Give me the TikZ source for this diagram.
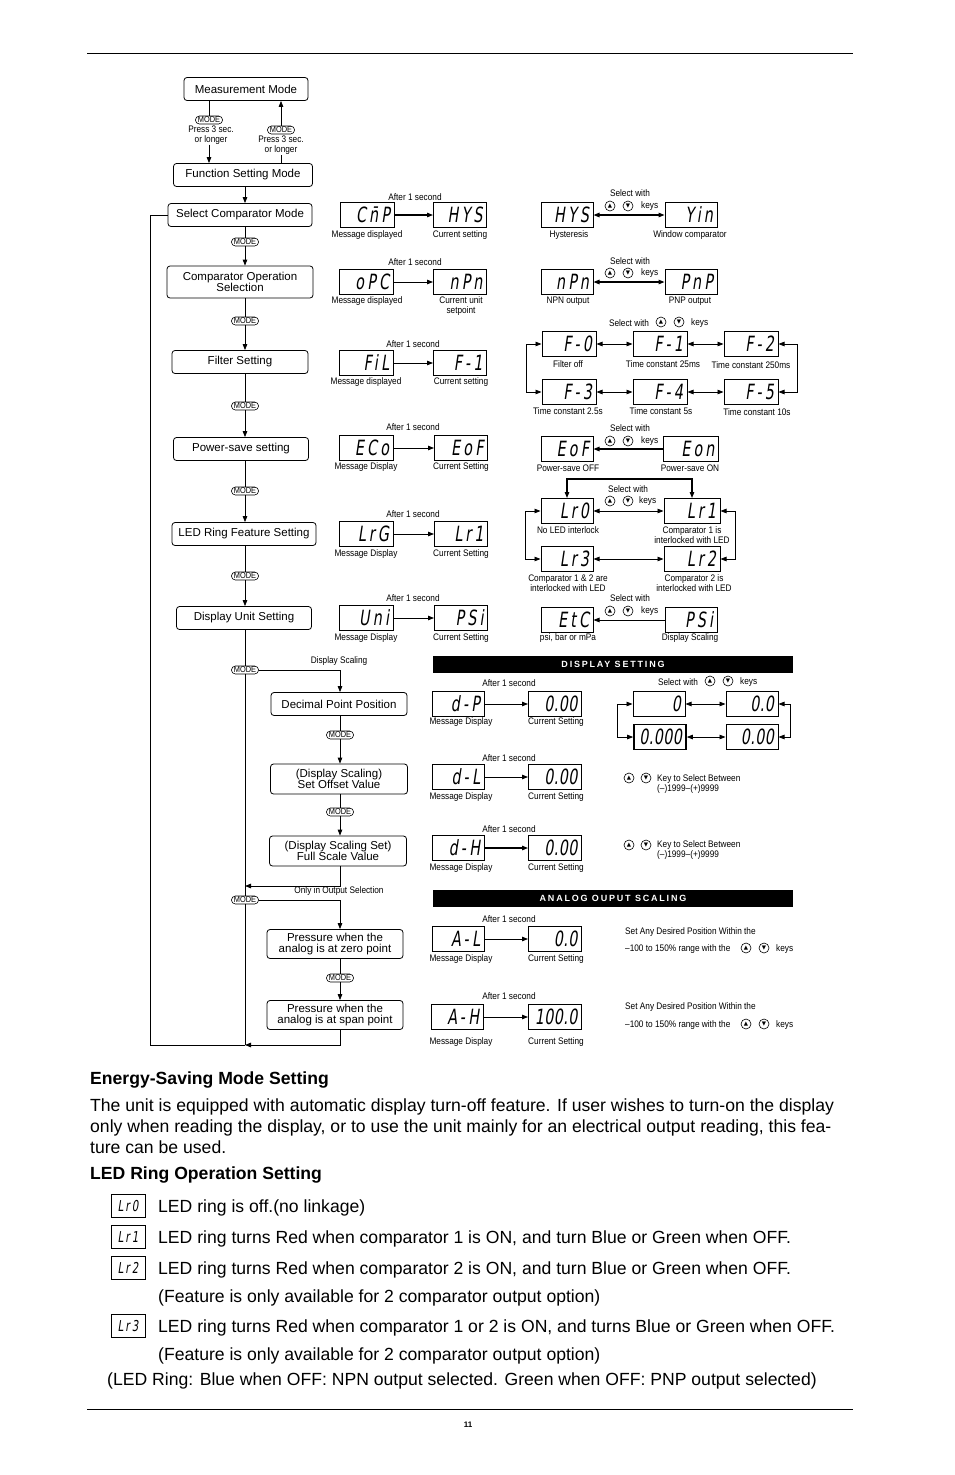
\documentclass[tikz,border=0pt]{standalone}
\usepackage{fontspec}
\setmainfont{Liberation Sans}
\newfontfamily\narrowfont[FakeStretch=0.87]{Liberation Sans}
\newfontfamily\segfont[FakeSlant=0.15,FakeStretch=0.68,LetterSpace=15]{DejaVu Sans}
\newfontfamily\numfont[FakeSlant=0.15,FakeStretch=0.68,LetterSpace=2]{DejaVu Sans}
\newfontfamily\symfont{DejaVu Sans}
\usetikzlibrary{positioning,arrows.meta}

\begin{document}
\begin{tikzpicture}[
  x=1pt, y=-1pt,
  box/.style={draw, rounded corners=3pt, line width=0.8pt, minimum height=23, inner xsep=2pt, inner ysep=1pt,
              align=center, font=\fontsize{11.5}{10.5}\selectfont},
  mode/.style={draw, rounded corners=4pt, line width=0.6pt, fill=white, inner xsep=2.5pt, inner ysep=1pt,
               font=\narrowfont\fontsize{8.5}{8}\selectfont},
  lbl/.style={inner sep=0pt, align=center, font=\narrowfont\fontsize{9.5}{10}\selectfont},
  seg/.style={draw, line width=1pt, minimum height=25, inner xsep=4pt, inner ysep=0pt, text width=#1,
              align=right, font=\segfont\fontsize{21}{21}\selectfont},
  seg/.default=44,
  segn/.style={seg=#1, font=\numfont\fontsize{21}{21}\selectfont},
  segn/.default=44,
  small/.style={seg=26, minimum height=23, align=center, font=\segfont\fontsize{15}{15}\selectfont},
  key/.style={circle, draw, line width=0.6pt, minimum size=10, inner sep=0pt, font=\symfont\fontsize{5.5}{5.5}\selectfont},
  bar/.style={fill=black, text=white, minimum width=360, minimum height=17, inner sep=0pt,
              font=\bfseries\fontsize{9}{9}\selectfont\addfontfeature{LetterSpace=20}},
  body/.style={anchor=base west, inner sep=0pt, font=\fontsize{17.6}{21}\selectfont},
  head/.style={anchor=base west, inner sep=0pt, font=\bfseries\fontsize{17.6}{21}\selectfont},
  flow/.style={line width=1pt},
  arr/.style={-{Triangle[length=6pt,width=4.5pt]}, line width=0.8pt},
  darr/.style={{Triangle[length=6pt,width=4.5pt]}-{Triangle[length=6pt,width=4.5pt]}, line width=0.8pt}
]
\useasboundingbox (0,0) rectangle (954,1475);
\draw[line width=0.6pt] (87,53) -- (853,53);
\draw[line width=0.6pt] (87,1409) -- (853,1409);
\node[lbl, font=\bfseries\fontsize{8}{8}\selectfont] (pnum) at (468,1425) {11};

% left column
\node[box, minimum width=124] (meas) at (246,89) {Measurement Mode};
\node[mode] (mm1) at (209,120) {MODE};
\node[lbl] (pr1) at (211,135) {Press 3 sec.\\or longer};
\node[mode] (mm2) at (281,130) {MODE};
\node[lbl] (pr2) at (281,145) {Press 3 sec.\\or longer};
\node[box, minimum width=139] (func) at (243,175) {Function Setting Mode};
\node[box, minimum width=144] (selc) at (240,215) {Select Comparator Mode};
\node[mode] (mA) at (245,242) {MODE};
\node[box, minimum width=146, minimum height=32] (cop) at (240,282) {Comparator Operation\\Selection};
\node[mode] (mB) at (245,321) {MODE};
\node[box, minimum width=136] (filt) at (240,362) {Filter Setting};
\node[mode] (mC) at (245,406) {MODE};
\node[box, minimum width=135] (pows) at (241,449) {Power-save setting};
\node[mode] (mD) at (245,491) {MODE};
\node[box, minimum width=144] (ledr) at (244,534) {LED Ring Feature Setting};
\node[mode] (mE) at (245,576) {MODE};
\node[box, minimum width=135] (dunit) at (244,618) {Display Unit Setting};
\node[mode] (mF) at (245,670) {MODE};
\node[lbl] (dsl) at (339,661) {Display Scaling};
\node[box, minimum width=136] (dpp) at (339,704) {Decimal Point Position};
\node[mode] (mH) at (340,735) {MODE};
\node[box, minimum width=137, minimum height=30] (offs) at (339,779) {(Display Scaling)\\Set Offset Value};
\node[mode] (mI) at (340,812) {MODE};
\node[box, minimum width=137, minimum height=30] (fsv) at (338,851) {(Display Scaling Set)\\Full Scale Value};
\node[lbl] (oos) at (339,891) {Only in Output Selection};
\node[mode] (mG) at (245,900) {MODE};
\node[box, minimum width=136, minimum height=29] (pzero) at (335,944) {Pressure when the\\analog is at zero point};
\node[mode] (mJ) at (340,978) {MODE};
\node[box, minimum width=136, minimum height=29] (pspan) at (335,1015) {Pressure when the\\analog is at span point};
\coordinate (jmid) at (245,886);
\coordinate (jbot) at (245,1045);
\coordinate (loop) at (150,1045);

\draw[flow] (meas.south -| mm1) -- (mm1);
\draw[arr] (pr1.south -| mm1) -- (func.north -| mm1);
\draw[flow] (func.north -| mm2) -- (pr2.south -| mm2);
\draw[arr] (mm2) -- (meas.south -| mm2);
\draw[arr] (func.south -| mA) -- (selc.north -| mA);
\draw[arr] (selc.south -| mA) -- (mA) -- (cop.north -| mA);
\draw[arr] (cop.south -| mB) -- (mB) -- (filt.north -| mB);
\draw[arr] (filt.south -| mC) -- (mC) -- (pows.north -| mC);
\draw[arr] (pows.south -| mD) -- (mD) -- (ledr.north -| mD);
\draw[arr] (ledr.south -| mE) -- (mE) -- (dunit.north -| mE);
\draw[flow] (dunit.south -| mF) -- (mF) -- (mG) -- (jbot);
\draw[arr] (mF.east) -| (dpp.north -| mH);
\draw[arr] (dpp.south -| mH) -- (mH) -- (offs.north -| mH);
\draw[arr] (offs.south -| mI) -- (mI) -- (fsv.north -| mI);
\draw[arr] (fsv.south -| mI) |- (jmid);
\draw[arr] (mG.east) -| (pzero.north -| mJ);
\draw[arr] (pzero.south -| mJ) -- (mJ) -- (pspan.north -| mJ);
\draw[arr] (pspan.south -| mJ) |- (jbot);
\draw[flow] (jbot) -- (loop) |- (selc.west);

% message / current setting
\node[lbl] (a1) at (415,197) {After 1 second};
\node[seg=46] (cmp) at (367,215) {C\={n}P};
\node[seg=45] (hys) at (460,215) {HYS};
\node[lbl] (a1m) at (367,235) {Message displayed};
\node[lbl] (a1c) at (460,235) {Current setting};
\draw[arr, line width=1.2pt] (cmp) -- (hys);

\node[lbl] (a2) at (415,262) {After 1 second};
\node[seg=46] (opc) at (366,282) {oPC};
\node[seg=45] (npn) at (460,282) {nPn};
\node[lbl] (a2m) at (367,301) {Message displayed};
\node[lbl] (a2c) at (461,306) {Current unit\\setpoint};
\draw[arr] (opc) -- (npn);

\node[lbl] (a3) at (413,344) {After 1 second};
\node[seg=46] (fil) at (366,363) {FiL};
\node[seg=45] (fone) at (460,363) {F-1};
\node[lbl] (a3m) at (366,382) {Message displayed};
\node[lbl] (a3c) at (461,382) {Current setting};
\draw[arr] (fil) -- (fone);

\node[lbl] (a4) at (413,427) {After 1 second};
\node[seg=46] (eco) at (366,448) {ECo};
\node[seg=45] (eof) at (461,448) {EoF};
\node[lbl] (a4m) at (366,467) {Message Display};
\node[lbl] (a4c) at (461,467) {Current Setting};
\draw[arr] (eco) -- (eof);

\node[lbl] (a5) at (413,514) {After 1 second};
\node[seg=46] (lrg) at (366,534) {LrG};
\node[seg=45] (lrone) at (461,534) {Lr1};
\node[lbl] (a5m) at (366,554) {Message Display};
\node[lbl] (a5c) at (461,554) {Current Setting};
\draw[arr] (lrg) -- (lrone);

\node[lbl] (a6) at (413,598) {After 1 second};
\node[seg=46] (uni) at (366,618) {Uni};
\node[seg=45] (psi) at (461,618) {PSi};
\node[lbl] (a6m) at (366,638) {Message Display};
\node[lbl] (a6c) at (461,638) {Current Setting};
\draw[arr] (uni) -- (psi);

% selections
\node[lbl] (s1t) at (630,193) {Select with};
\node[key] (s1u) at (610,206) {▲};
\node[key] (s1d) at (628,206) {▼};
\node[lbl, anchor=west] (s1k) at (641,206) {keys};
\node[seg] (hysb) at (567,215) {HYS};
\node[seg] (win) at (691,215) {Yin};
\node[lbl] (s1a) at (569,235) {Hysteresis};
\node[lbl] (s1b) at (690,235) {Window comparator};
\draw[darr, line width=1.2pt] (hysb) -- (win);

\node[lbl] (s2t) at (630,261) {Select with};
\node[key] (s2u) at (610,273) {▲};
\node[key] (s2d) at (628,273) {▼};
\node[lbl, anchor=west] (s2k) at (641,273) {keys};
\node[seg] (npnb) at (567,282) {nPn};
\node[seg] (pnp) at (691,282) {PnP};
\node[lbl] (s2a) at (568,301) {NPN output};
\node[lbl] (s2b) at (690,301) {PNP output};
\draw[darr, line width=1.2pt] (npnb) -- (pnp);

\node[lbl] (s3t) at (629,323) {Select with};
\node[key] (s3u) at (661,322) {▲};
\node[key] (s3d) at (679,322) {▼};
\node[lbl, anchor=west] (s3k) at (691,323) {keys};
\node[seg=46] (fa0) at (569,344) {F-0};
\node[seg=46] (fa1) at (660,344) {F-1};
\node[seg=46] (fa2) at (751,344) {F-2};
\node[seg=46] (fa3) at (569,392) {F-3};
\node[seg=46] (fa4) at (660,392) {F-4};
\node[seg=46] (fa5) at (751,392) {F-5};
\node[lbl] (s3a) at (568,364) {Filter off};
\node[lbl] (s3b) at (663,364) {Time constant 25ms};
\node[lbl] (s3c) at (751,365) {Time constant 250ms};
\node[lbl] (s3d2) at (568,411) {Time constant 2.5s};
\node[lbl] (s3e) at (661,411) {Time constant 5s};
\node[lbl] (s3f) at (757,412) {Time constant 10s};
\draw[darr] (fa0) -- (fa1);
\draw[darr] (fa1) -- (fa2);
\draw[darr] (fa3) -- (fa4);
\draw[darr] (fa4) -- (fa5);
\draw[darr] (fa0.west) -- ++(-15,0) |- (fa3.west);
\draw[darr] (fa2.east) -- ++(19,0) |- (fa5.east);

\node[lbl] (s4t) at (630,428) {Select with};
\node[key] (s4u) at (610,441) {▲};
\node[key] (s4d) at (628,441) {▼};
\node[lbl, anchor=west] (s4k) at (641,441) {keys};
\node[seg] (eofb) at (567,449) {EoF};
\node[seg=47] (eon) at (691,449) {Eon};
\node[lbl] (s4a) at (568,468) {Power-save OFF};
\node[lbl] (s4b) at (690,468) {Power-save ON};
\draw[arr, line width=1.2pt] (eon) -- (eofb);

\node[lbl] (s5t) at (628,489) {Select with};
\node[key] (s5u) at (610,501) {▲};
\node[key] (s5d) at (628,501) {▼};
\node[lbl, anchor=west] (s5k) at (639,501) {keys};
\node[seg] (lra0) at (567,511) {Lr0};
\node[seg=48] (lra1) at (692,511) {Lr1};
\node[seg] (lra3) at (567,559) {Lr3};
\node[seg=48] (lra2) at (692,559) {Lr2};
\node[lbl] (s5a) at (568,530) {No LED interlock};
\node[lbl] (s5b) at (692,535) {Comparator 1 is\\interlocked with LED};
\node[lbl] (s5c) at (568,583) {Comparator 1 \& 2 are\\interlocked with LED};
\node[lbl] (s5e) at (694,583) {Comparator 2 is\\interlocked with LED};
\draw[darr] (lra0) -- (lra1);
\draw[darr] (lra3) -- (lra2);
\draw[darr] (lra0.west) -- ++(-15,0) |- (lra3.west);
\draw[darr] (lra1.east) -- ++(15,0) |- (lra2.east);
\draw[darr, line width=1.2pt] (lra0.north) -- ++(0,-19) -| (lra1.north);

\node[lbl] (s6t) at (630,598) {Select with};
\node[key] (s6u) at (610,611) {▲};
\node[key] (s6d) at (628,611) {▼};
\node[lbl, anchor=west] (s6k) at (641,611) {keys};
\node[seg] (etcb) at (567,620) {EtC};
\node[seg] (psib) at (691,620) {PSi};
\node[lbl] (s6a) at (568,638) {psi, bar or mPa};
\node[lbl] (s6b) at (690,638) {Display Scaling};
\draw[arr] (psib) -- (etcb);

% display setting
\node[bar] (dset) at (613,664) {DISPLAY SETTING};
\node[lbl] (d1) at (509,683) {After 1 second};
\node[seg] (dp) at (458,704) {d-P};
\node[segn=45] (dpv) at (555,704) {0.00};
\node[lbl] (d1m) at (461,722) {Message Display};
\node[lbl] (d1c) at (556,722) {Current Setting};
\draw[arr] (dp) -- (dpv);
\node[lbl] (d1t) at (678,682) {Select with};
\node[key] (d1u) at (710,681) {▲};
\node[key] (d1d) at (728,681) {▼};
\node[lbl, anchor=west] (d1k) at (740,682) {keys};
\node[segn] (sc0) at (659,704) {0};
\node[segn] (sc1) at (752,704) {0.0};
\node[segn, line width=1.6pt] (sc3) at (660,737) {0.000};
\node[segn] (sc2) at (752,737) {0.00};
\draw[darr] (sc0) -- (sc1);
\draw[darr] (sc3) -- (sc2);
\draw[darr] (sc0.west) -- ++(-15,0) |- (sc3.west);
\draw[darr] (sc1.east) -- ++(12,0) |- (sc2.east);

\node[lbl] (d2) at (509,758) {After 1 second};
\node[seg] (dl) at (458,777) {d-L};
\node[segn=45] (dlv) at (555,777) {0.00};
\node[lbl] (d2m) at (461,797) {Message Display};
\node[lbl] (d2c) at (556,797) {Current Setting};
\draw[arr] (dl) -- (dlv);
\node[key] (d2u) at (629,778) {▲};
\node[key] (d2d) at (646,778) {▼};
\node[lbl, anchor=west, align=left] (d2t) at (657,784) {Key to Select Between\\(–)1999–(+)9999};

\node[lbl] (d3) at (509,829) {After 1 second};
\node[seg] (dh) at (458,848) {d-H};
\node[segn=45] (dhv) at (555,848) {0.00};
\node[lbl] (d3m) at (461,868) {Message Display};
\node[lbl] (d3c) at (556,868) {Current Setting};
\draw[arr, line width=1.2pt] (dh) -- (dhv);
\node[key] (d3u) at (629,845) {▲};
\node[key] (d3d) at (646,845) {▼};
\node[lbl, anchor=west, align=left] (d3t) at (657,850) {Key to Select Between\\(–)1999–(+)9999};

% analog output scaling
\node[bar] (aset) at (613,898) {ANALOG OUPUT SCALING};
\node[lbl] (e1) at (509,919) {After 1 second};
\node[seg] (al) at (458,939) {A-L};
\node[segn=45] (alv) at (555,939) {0.0};
\node[lbl] (e1m) at (461,959) {Message Display};
\node[lbl] (e1c) at (556,959) {Current Setting};
\draw[arr] (al) -- (alv);
\node[lbl, anchor=west] (e1t) at (625,932) {Set Any Desired Position Within the};
\node[lbl, anchor=west] (e1r) at (625,949) {–100 to 150\% range with the};
\node[key] (e1u) at (746,948) {▲};
\node[key] (e1d) at (764,948) {▼};
\node[lbl, anchor=west] (e1k) at (776,949) {keys};

\node[lbl] (e2) at (509,996) {After 1 second};
\node[seg] (ah) at (457,1017) {A-H};
\node[segn=45] (ahv) at (555,1017) {100.0};
\node[lbl] (e2m) at (461,1042) {Message Display};
\node[lbl] (e2c) at (556,1042) {Current Setting};
\draw[arr] (ah) -- (ahv);
\node[lbl, anchor=west] (e2t) at (625,1007) {Set Any Desired Position Within the};
\node[lbl, anchor=west] (e2r) at (625,1025) {–100 to 150\% range with the};
\node[key] (e2u) at (746,1024) {▲};
\node[key] (e2d) at (764,1024) {▼};
\node[lbl, anchor=west] (e2k) at (776,1025) {keys};

% text below
\node[head] (h1) at (90,1084) {Energy-Saving Mode Setting};
\node[body] (p1) at (90,1111) {The unit is equipped with automatic display turn-off feature. If user wishes to turn-on the display};
\node[body] (p2) at (90,1132) {only when reading the display, or to use the unit mainly for an electrical output reading, this fea-};
\node[body] (p3) at (90,1153) {ture can be used.};
\node[head] (h2) at (90,1179) {LED Ring Operation Setting};
\node[small] (b0) at (128,1206) {Lr0};
\node[body] (t0) at (158,1212) {LED ring is off.(no linkage)};
\node[small] (b1) at (128,1237) {Lr1};
\node[body] (t1) at (158,1243) {LED ring turns Red when comparator 1 is ON, and turn Blue or Green when OFF.};
\node[small] (b2) at (128,1268) {Lr2};
\node[body] (t2) at (158,1274) {LED ring turns Red when comparator 2 is ON, and turn Blue or Green when OFF.};
\node[body] (t2b) at (158,1302) {(Feature is only available for 2 comparator output option)};
\node[small] (b3) at (128,1326) {Lr3};
\node[body] (t3) at (158,1332) {LED ring turns Red when comparator 1 or 2 is ON, and turns Blue or Green when OFF.};
\node[body] (t3b) at (158,1360) {(Feature is only available for 2 comparator output option)};
\node[body] (t4) at (107,1385) {(LED Ring: Blue when OFF: NPN output selected. Green when OFF: PNP output selected)};
\end{tikzpicture}
\end{document}
